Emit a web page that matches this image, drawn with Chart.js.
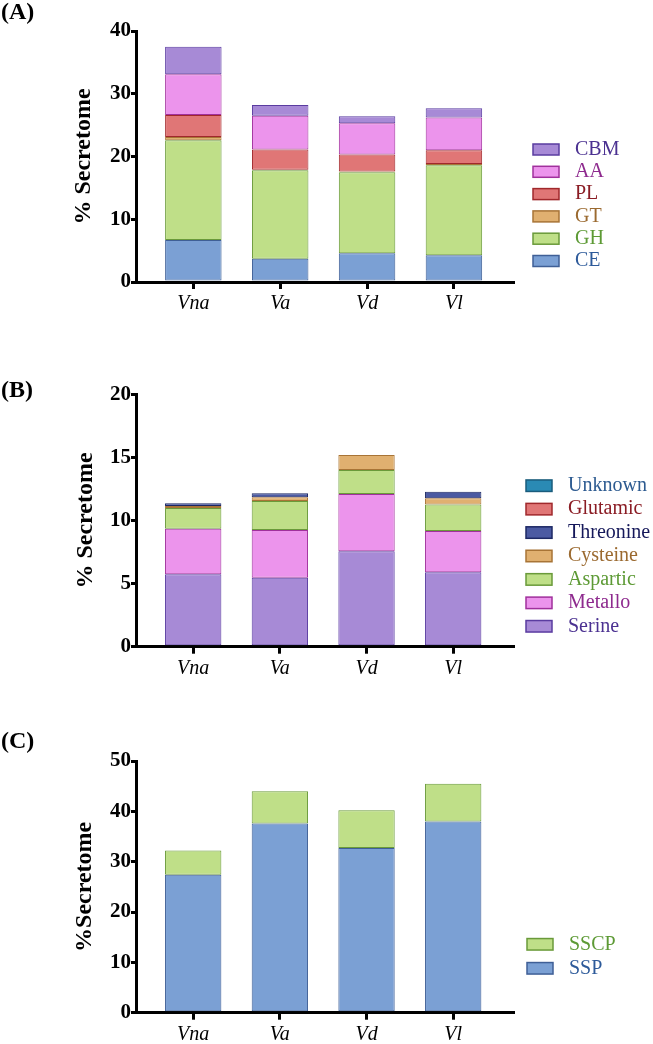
<!DOCTYPE html>
<html>
<head>
<meta charset="utf-8">
<script src="https://cdn.jsdelivr.net/npm/chart.js@4.4.1/dist/chart.umd.min.js"></script>
<style>
    body { margin: 0; background: #fff; width: 653px; height: 1044px; position: relative; overflow: hidden; }
    canvas { position: absolute; left: 0; }
</style>
</head>
<body>
<canvas id="chartA" width="653" height="320" style="top:0px"></canvas>
<canvas id="chartB" width="653" height="370" style="top:320px"></canvas>
<canvas id="chartC" width="653" height="354" style="top:690px"></canvas>
<script>
const categories = ["Vna", "Va", "Vd", "Vl"];

// (A) stacked from bottom to top
const seriesA = ["CE", "GH", "GT", "PL", "AA", "CBM"];
const ceValues = [6.7, 3.7, 4.6, 4.25];
const ghValues = [15.9, 14.1, 12.9, 14.35];
const gtValues = [0.5, 0.1, 0.1, 0.2];
const plValues = [3.5, 3.2, 2.7, 2.2];
const aaValues = [6.5, 5.4, 5.0, 5.2];
const cbmValues = [4.4, 1.7, 1.1, 1.5];
const ticksA = [0, 10, 20, 30, 40];

// (B)
const seriesB = ["Serine", "Metallo", "Aspartic", "Cysteine", "Threonine", "Glutamic", "Unknown"];
const serineValues = [5.75, 5.47, 7.56, 5.9];
const metalloValues = [3.6, 3.78, 4.54, 3.27];
const asparticValues = [1.65, 2.3, 1.9, 2.1];
const cysteineValues = [0.15, 0.3, 1.2, 0.5];
const threonineValues = [0.22, 0.3, 0, 0.5];
const glutamicValues = [0, 0, 0, 0];
const unknownValues = [0, 0, 0, 0];
const ticksB = [0, 5, 10, 15, 20];

// (C)
const seriesC = ["SSP", "SSCP"];
const sspValues = [27.4, 37.6, 32.7, 38.0];
const sscpValues = [4.8, 6.4, 7.5, 7.5];
const ticksC = [0, 10, 20, 30, 40, 50];

const FONT = "'Liberation Serif', 'Times New Roman', serif";
Chart.defaults.font.family = FONT;

const palette = {
    CE:        { fill: "#7ba0d4", border: "#3f5f96", text: "#2d5a9a" },
    GH:        { fill: "#bfdf88", border: "#6a9a3a", text: "#5d9a35" },
    GT:        { fill: "#e0b070", border: "#a87436", text: "#9b6a30" },
    PL:        { fill: "#e07676", border: "#a0282c", text: "#8a1c24" },
    AA:        { fill: "#ec94ec", border: "#a0309c", text: "#8e2a8e" },
    CBM:       { fill: "#a78ad6", border: "#5a3ca0", text: "#4b3191" },
    Serine:    { fill: "#a78ad6", border: "#5a3ca0", text: "#4b3191" },
    Metallo:   { fill: "#ec94ec", border: "#a0309c", text: "#8e2a8e" },
    Aspartic:  { fill: "#bfdf88", border: "#6a9a3a", text: "#5d9a35" },
    Cysteine:  { fill: "#e0b070", border: "#a87436", text: "#9b6a30" },
    Threonine: { fill: "#4b5aa2", border: "#1c2864", text: "#15185a" },
    Glutamic:  { fill: "#e07676", border: "#a0282c", text: "#8a1c24" },
    Unknown:   { fill: "#2a8ab4", border: "#1a5c7c", text: "#2c5a90" },
    SSP:       { fill: "#7ba0d4", border: "#3f5f96", text: "#2d5a9a" },
    SSCP:      { fill: "#bfdf88", border: "#6a9a3a", text: "#5d9a35" }
};

// panel label + legend drawn at fixed spots
const decoPlugin = {
    id: "deco",
    afterDraw(chart, args, o) {
        const ctx = chart.ctx;
        ctx.save();
        ctx.textBaseline = "middle";
        ctx.textAlign = "left";
        ctx.fillStyle = "#000";
        ctx.font = "bold 24px " + FONT;
        ctx.fillText(o.label, o.labelX, o.labelY);

        ctx.font = "20px " + FONT;
        const sets = chart.data.datasets.slice().reverse();
        sets.forEach((ds, i) => {
            const y = o.legendY + i * o.step;
            const st = palette[ds.label];
            ctx.fillStyle = st.fill;
            ctx.fillRect(o.boxX, y - o.boxH / 2, o.boxW, o.boxH);
            ctx.strokeStyle = st.border;
            ctx.lineWidth = 1.5;
            ctx.strokeRect(o.boxX, y - o.boxH / 2, o.boxW, o.boxH);
            ctx.fillStyle = st.text;
            ctx.fillText(ds.label, o.textX, y);
        });
        ctx.restore();
    }
};

function buildDatasets(names, values) {
    return names.map((name, i) => ({
        label: name,
        data: values[i].map((v, j) => ({ x: j + 1, y: v })),
        backgroundColor: palette[name].fill,
        borderColor: palette[name].border,
        borderWidth: 1,
        borderSkipped: false,
        barPercentage: 0.65,
        categoryPercentage: 1
    }));
}

function makeChart(id, names, values, yTicks, cfg) {
    const ctx = document.getElementById(id).getContext("2d");
    return new Chart(ctx, {
        type: "bar",
        data: { datasets: buildDatasets(names, values) },
        plugins: [decoPlugin],
        options: {
            responsive: false,
            animation: false,
            layout: { padding: { left: 0, right: 140, top: cfg.top, bottom: cfg.bottom } },
            plugins: {
                legend: { display: false },
                tooltip: { enabled: false },
                deco: cfg.deco
            },
            scales: {
                x: {
                    type: "linear",
                    offset: false,
                    stacked: true,
                    min: 0.34,
                    max: cfg.xMax,
                    afterFit: (scale) => { scale.height = 30; },
                    afterBuildTicks: (scale) => {
                        scale.ticks = categories.map((c, i) => ({ value: i + 1 }));
                    },
                    grid: { offset: false, drawOnChartArea: false, drawTicks: true, tickLength: 7, lineWidth: 3, color: "#000" },
                    border: { display: true, width: 3, color: "#000" },
                    ticks: {
                        color: "#000",
                        padding: 3,
                        maxRotation: 0,
                        font: { family: FONT, size: 20, style: "italic" },
                        callback: (v) => categories[v - 1]
                    }
                },
                y: {
                    stacked: true,
                    min: yTicks[0],
                    max: yTicks[yTicks.length - 1],
                    afterFit: (scale) => { scale.width = 136; },
                    afterBuildTicks: (scale) => {
                        scale.ticks = yTicks.map(v => ({ value: v }));
                    },
                    grid: { drawOnChartArea: false, drawTicks: true, tickLength: 5, lineWidth: 3, color: "#000" },
                    border: { display: true, width: 3, color: "#000" },
                    ticks: {
                        color: "#000",
                        padding: 0,
                        font: { family: FONT, size: 21, weight: "bold" }
                    },
                    title: {
                        display: true,
                        text: cfg.yTitle,
                        color: "#000",
                        font: { family: FONT, size: 24, weight: "bold" },
                        padding: { top: cfg.titlePad, bottom: 0 }
                    }
                }
            }
        }
    });
}

makeChart("chartA", seriesA,
    [ceValues, ghValues, gtValues, plValues, aaValues, cbmValues], ticksA, {
        top: 31, bottom: 8, xMax: 4.68, yTitle: "% Secretome", titlePad: 69.5,
        deco: { label: "(A)", labelX: 1, labelY: 13, boxX: 533, boxW: 26, boxH: 11, textX: 575, legendY: 149.5, step: 22.3 }
    });

makeChart("chartB", seriesB,
    [serineValues, metalloValues, asparticValues, cysteineValues, threonineValues, glutamicValues, unknownValues], ticksB, {
        top: 74.3, bottom: 13.3, xMax: 4.69, yTitle: "% Secretome", titlePad: 71.5,
        deco: { label: "(B)", labelX: 1, labelY: 71, boxX: 526, boxW: 26, boxH: 11.5, textX: 568, legendY: 165.7, step: 23.43 }
    });

makeChart("chartC", seriesC,
    [sspValues, sscpValues], ticksC, {
        top: 71, bottom: 1.3, xMax: 4.69, yTitle: "%Secretome", titlePad: 70.5,
        deco: { label: "(C)", labelX: 1, labelY: 52, boxX: 527, boxW: 26, boxH: 11.5, textX: 569, legendY: 254.3, step: 24 }
    });
</script>
</body>
</html>
